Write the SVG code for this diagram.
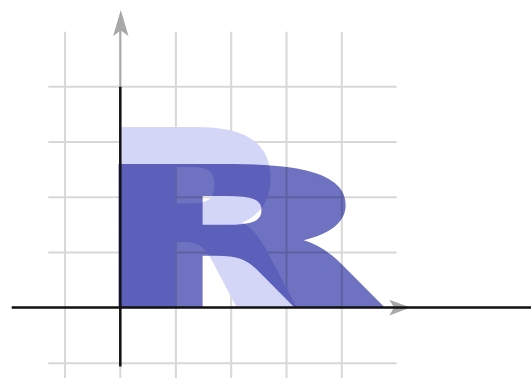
<svg xmlns="http://www.w3.org/2000/svg" width="531" height="378" viewBox="0 0 531 378">
<style>
.grid line{stroke:#d8d8d8;stroke-width:2}
.letter{font-family:"DejaVu Sans",sans-serif;font-weight:700;font-size:235px;stroke-width:8px;stroke-linejoin:miter}
.axis{stroke:#111;stroke-width:2.5}
.garrow{fill:#a8a8a8}
</style>
<rect width="531" height="378" fill="#fff"/>
<g id="grid" class="grid">
<line x1="65" y1="31.7" x2="65" y2="378"/>
<line x1="120.3" y1="31.7" x2="120.3" y2="378"/>
<line x1="175.9" y1="31.7" x2="175.9" y2="378"/>
<line x1="231.2" y1="31.7" x2="231.2" y2="378"/>
<line x1="286.5" y1="31.7" x2="286.5" y2="378"/>
<line x1="341.8" y1="31.7" x2="341.8" y2="378"/>
<line x1="48.3" y1="86.7" x2="396.7" y2="86.7"/>
<line x1="48.3" y1="141.9" x2="396.7" y2="141.9"/>
<line x1="48.3" y1="197.2" x2="396.7" y2="197.2"/>
<line x1="48.3" y1="252.5" x2="396.7" y2="252.5"/>
<line x1="48.3" y1="363.3" x2="396.7" y2="363.3"/>
</g>
<g id="shapes">
<text class="letter" x="101.6" y="303.5" fill="#d4d6f7" stroke="#d4d6f7" transform="translate(120.3 307.5) scale(1.075 1) translate(-120.3 -307.5)">R</text>
<text class="letter" x="101.6" y="303.5" fill="#6e72c0" stroke="#6e72c0" style="mix-blend-mode:multiply" transform="translate(120.3 307.5) scale(1.6125 0.8) translate(-120.3 -307.5)">R</text>
</g>
<g id="axes">
<line x1="120.3" y1="30" x2="120.3" y2="88" stroke="#a8a8a8" stroke-width="2"/>
<path class="garrow" d="M120.8,10 L128.5,36 L120.8,30.5 L113.1,36 Z"/>
<path class="garrow" d="M410.5,307.5 L389.3,299.7 L394,307.5 L389.3,315.5 Z"/>
<line class="axis" x1="120.3" y1="86.7" x2="120.3" y2="366.5"/>
<line class="axis" x1="11.7" y1="307.5" x2="531" y2="307.5"/>
</g>
</svg>
